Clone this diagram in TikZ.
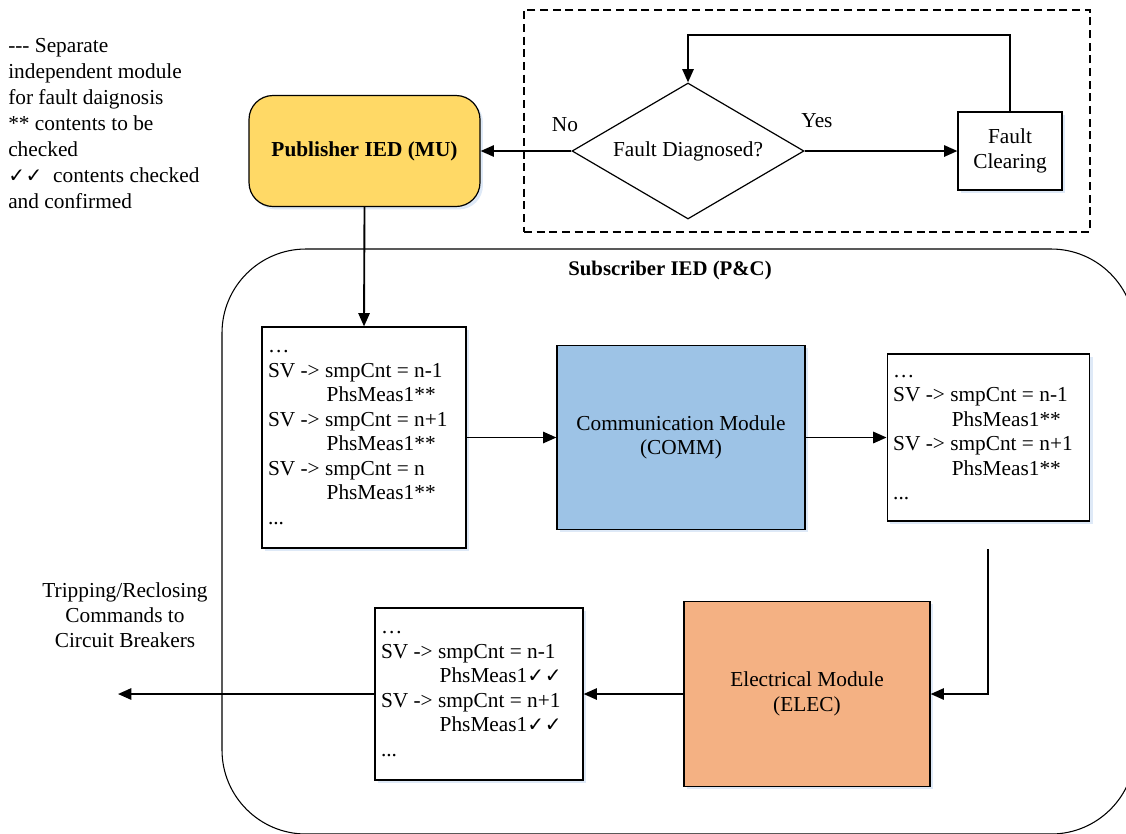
\documentclass[tikz,border=0pt]{standalone}
\usepackage{fontspec}
\setmainfont{Liberation Serif}
\newfontfamily\symfont{DejaVu Sans}
\usetikzlibrary{arrows.meta,shapes.geometric,shadows,calc}

% two check marks and the indent of the second text line
\newcommand{\ticks}{{\symfont\fontsize{15pt}{15pt}\selectfont ✓\kern0.5pt✓}}
\newcommand{\indentsv}{\hspace*{44pt}}

\definecolor{pubfill}{HTML}{FFD966}
\definecolor{commfill}{HTML}{9DC3E6}
\definecolor{elecfill}{HTML}{F4B183}
\definecolor{glowcol}{HTML}{D6E4F5}

\begin{document}
\begin{tikzpicture}[x=0.75pt,y=-0.75pt,
  every node/.style={font=\fontsize{16pt}{18.4pt}\selectfont},
  conn/.style={line width=1.4pt,-{Triangle[length=10pt,width=8.5pt]}},
  glow/.style={drop shadow={shadow xshift=2.2pt,shadow yshift=-2.2pt,fill=glowcol,opacity=0.8}},
  box/.style={draw,line width=0.9pt,inner sep=0pt,align=center,glow},
  tbox/.style={draw,line width=0.9pt,fill=white,align=flush left,inner xsep=4.5pt,inner ysep=0pt,glow},
]
\useasboundingbox (0,0) rectangle (1126,833);
\clip (0,0) rectangle (1126,833);

% enclosing frames
\node[draw,line width=0.8pt,rounded corners=63pt,minimum width=684.75pt,minimum height=438.75pt,inner sep=0pt]
  (sub) at (678.5,541.5) {};
\node[font=\bfseries\fontsize{15.6pt}{18.4pt}\selectfont] (subtitle) at (670,270) {Subscriber IED (P\&C)};
\node[draw,line width=0.8pt,dash pattern=on 6pt off 3.5pt,minimum width=424.5pt,minimum height=166.5pt,inner sep=0pt]
  (diag) at (807,121) {};

% legend
\node[anchor=north west,align=flush left,inner sep=0pt,font=\fontsize{16pt}{19.5pt}\selectfont] (legend) at (8,38)
  {-{}-{}- Separate\\ independent module\\ for fault daignosis\\ ** contents to be\\ checked\\ \ticks\ \ contents checked\\ and confirmed};

% publisher and fault diagnosis loop
\node[box,fill=pubfill,rounded corners=18pt,minimum width=173.25pt,minimum height=83.25pt,
  font=\bfseries\fontsize{16pt}{18.4pt}\selectfont] (pub) at (364.5,151) {Publisher IED (MU)};
\node[draw,line width=0.9pt,diamond,aspect=1.8,fill=white,inner sep=0pt,minimum width=174pt,minimum height=102pt] (dia) at (688,151) {Fault Diagnosed?};
\node[box,fill=white,minimum width=78pt,minimum height=58.5pt] (fc) at (1010,151) {Fault\\Clearing};
\node (no) at (565,125) {No};
\node (yes) at (817,121) {Yes};
\coordinate (fb) at (688,35);

\draw[conn] (dia.west) -- (pub.east);
\draw[conn] (dia.east) -- (fc.west);
\draw[conn] (fc.north) |- (fb) -- (dia.north);

% subscriber internals
\node[tbox,text width=144pt,minimum height=165.75pt] (in) at (364,437.5)
  {…\\ SV -> smpCnt = n-1\\ \indentsv PhsMeas1**\\ SV -> smpCnt = n+1\\ \indentsv PhsMeas1**\\ SV -> smpCnt = n\\ \indentsv PhsMeas1**\\ ...};
\node[box,fill=commfill,minimum width=186pt,minimum height=138pt] (comm) at (681,437.5) {Communication Module\\(COMM)};
\node[tbox,text width=143pt,minimum height=125.25pt] (mid) at (988.5,437.5)
  {…\\ SV -> smpCnt = n-1\\ \indentsv PhsMeas1**\\ SV -> smpCnt = n+1\\ \indentsv PhsMeas1**\\ ...};
\node[box,fill=elecfill,minimum width=184.5pt,minimum height=138.75pt] (elec) at (807,694) {Electrical Module\\(ELEC)};
\node[tbox,text width=147pt,minimum height=129pt] (outbox) at (479,694)
  {…\\ SV -> smpCnt = n-1\\ \indentsv PhsMeas1\ticks\\ SV -> smpCnt = n+1\\ \indentsv PhsMeas1\ticks\\ ...};
\node[align=center,font=\fontsize{16pt}{18.8pt}\selectfont] (trip) at (125,615) {Tripping/Reclosing\\Commands to\\Circuit Breakers};

\coordinate (midout) at (988,549);
\coordinate (cb) at (118,694);

\draw[conn] (pub.south) -- (in.north);
\draw[conn] (in.east) -- (comm.west);
\draw[conn] (comm.east) -- (mid.west);
\draw[conn] (midout) |- (elec.east);
\draw[conn] (elec.west) -- (outbox.east);
\draw[conn] (outbox.west) -- (cb);
\end{tikzpicture}
\end{document}
